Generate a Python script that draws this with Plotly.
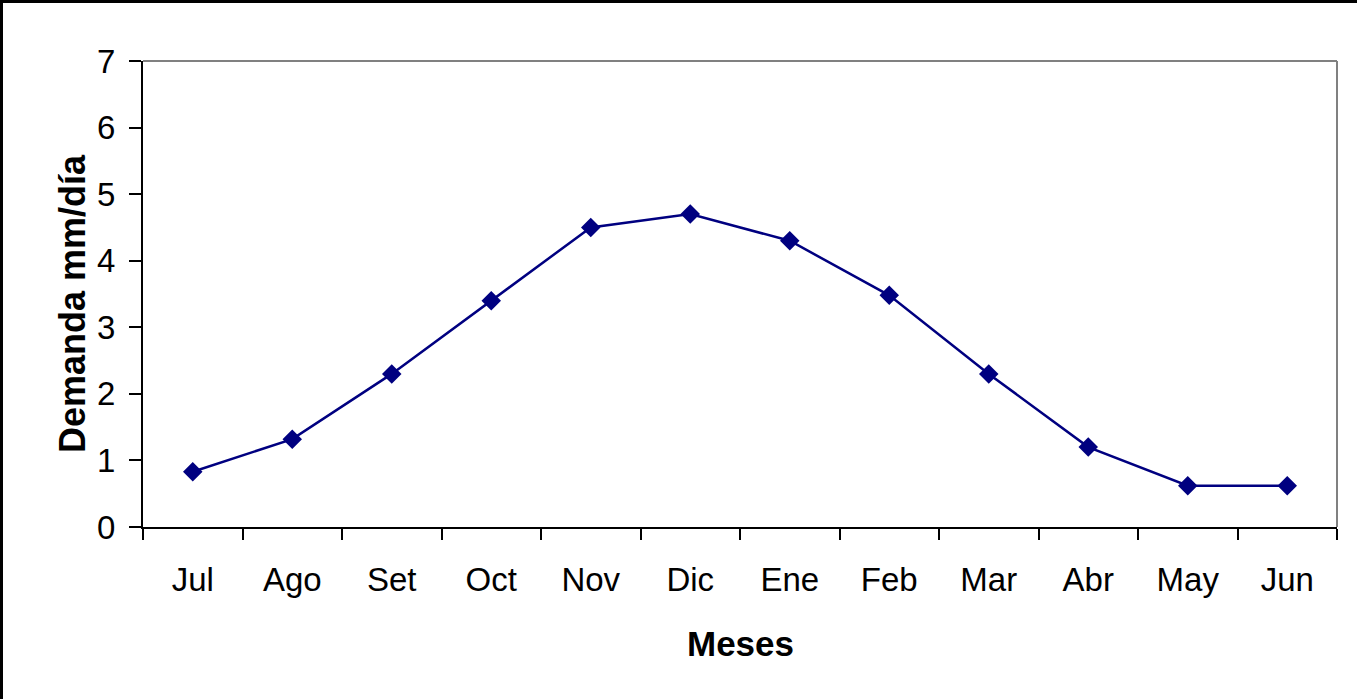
import plotly.graph_objects as go

meses = ["Jul", "Ago", "Set", "Oct", "Nov", "Dic", "Ene", "Feb", "Mar", "Abr", "May", "Jun"]
demanda = [0.83, 1.32, 2.3, 3.4, 4.5, 4.7, 4.3, 3.48, 2.3, 1.2, 0.62, 0.62]
y_ticks = [0, 1, 2, 3, 4, 5, 6, 7]

W, H = 1357, 699
L, R, T, B = 143, 1337, 61, 527
pw, ph = R - L, B - T

def px_x(x):
    return (x - L) / pw

def px_y(y):
    return (B - y) / ph

fig = go.Figure()
fig.add_trace(go.Scatter(
    x=meses, y=demanda, mode="lines+markers",
    line=dict(color="#000080", width=2.5),
    marker=dict(symbol="diamond", size=15, color="#000080"),
    showlegend=False, cliponaxis=False,
))

font = dict(family="Liberation Sans, Arial, sans-serif", color="black")

fig.update_layout(
    width=W, height=H,
    margin=dict(l=L, r=W - R, t=T, b=H - B, pad=0),
    paper_bgcolor="white", plot_bgcolor="white",
    font=dict(family="Liberation Sans, Arial, sans-serif", size=34, color="black"),
    xaxis=dict(
        type="category", range=[-0.5, 11.5], tickson="boundaries",
        ticks="outside", ticklen=11, tickwidth=2, tickcolor="black",
        showline=True, linecolor="black", linewidth=2,
        showgrid=False, zeroline=False,
        tickfont=dict(size=33, **font), ticklabelstandoff=22,
    ),
    yaxis=dict(
        range=[0, 7], tickvals=y_ticks,
        ticks="outside", ticklen=12, tickwidth=2, tickcolor="black",
        showline=True, linecolor="black", linewidth=2,
        showgrid=False, zeroline=False,
        tickfont=dict(size=33, **font), ticklabelstandoff=7,
    ),
    shapes=[
        dict(type="line", xref="paper", yref="paper", x0=0, x1=1, y0=1, y1=1,
             line=dict(color="#808080", width=2)),
        dict(type="line", xref="paper", yref="paper", x0=1, x1=1, y0=0, y1=1,
             line=dict(color="#808080", width=2)),
        dict(type="line", xref="paper", yref="paper", x0=px_x(1.5), x1=px_x(1.5),
             y0=px_y(0), y1=px_y(H + 5), line=dict(color="black", width=3)),
        dict(type="line", xref="paper", yref="paper", x0=px_x(0), x1=px_x(W + 5),
             y0=px_y(1.5), y1=px_y(1.5), line=dict(color="black", width=3)),
    ],
    annotations=[
        dict(text="<b>Meses</b>", xref="paper", yref="paper", x=px_x(740), y=px_y(643),
             showarrow=False, xanchor="center", yanchor="middle",
             font=dict(size=35, **font)),
        dict(text="<b>Demanda mm/día</b>", xref="paper", yref="paper", x=px_x(72), y=px_y(304),
             showarrow=False, xanchor="center", yanchor="middle", textangle=-90,
             font=dict(size=36, **font)),
    ],
)

fig.write_html("out.html", config={"displayModeBar": False},
               post_script="document.body.style.margin='0';document.body.style.overflow='hidden';")
